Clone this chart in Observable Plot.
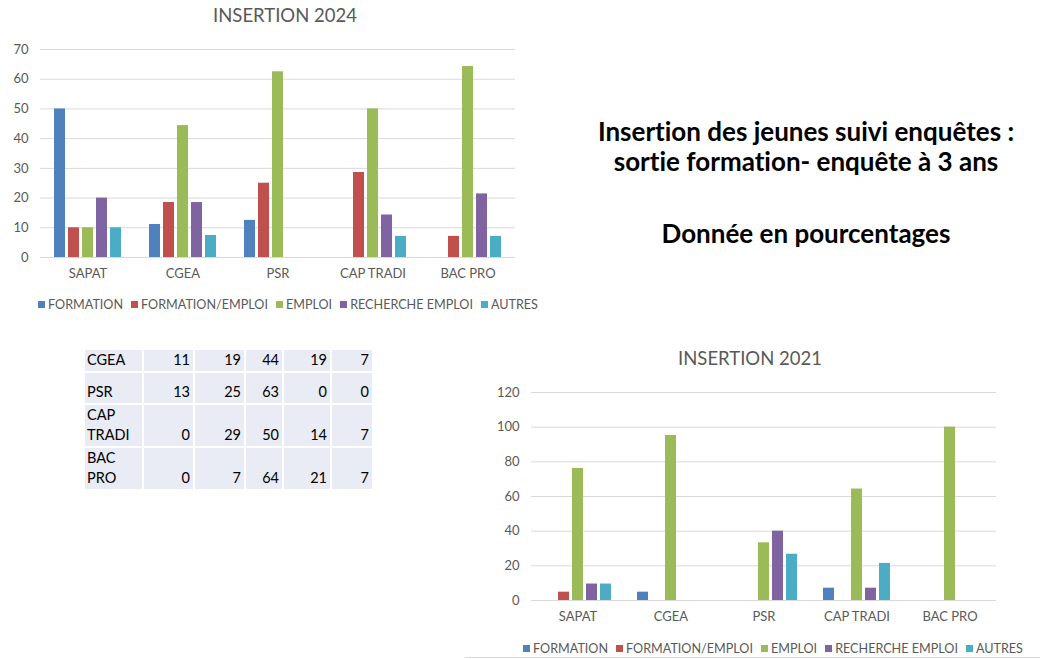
<!DOCTYPE html>
<html>
<head>
<meta charset="utf-8">
<script src="https://cdn.jsdelivr.net/npm/d3@7"></script>
<script src="https://cdn.jsdelivr.net/npm/@observablehq/plot@0.6"></script>
<style>
  html, body { margin: 0; padding: 0; background: #fff; }
  body { width: 1040px; height: 659px; position: relative; overflow: hidden; font-family: Lato, "Open Sans", sans-serif; font-variant-ligatures: none; }
  .abs { position: absolute; }
  .title { color: #595959; font-size: 18.5px; text-align: center; }
  .legend { display: flex; justify-content: center; gap: 8px; color: #595959; font-size: 12.6px; white-space: nowrap; }
  .legend span.sw { display: inline-block; width: 7px; height: 7px; margin-right: 3px; vertical-align: 1px; }
  .headline { color: #000; font-weight: bold; font-size: 26px; text-align: center; line-height: 31px; white-space: nowrap; }
  table.tbl { border-collapse: separate; border-spacing: 2px; font-size: 14.5px; color: #000; }
  table.tbl td { background: #e9ebf5; padding: 0 3px 1px 2px; vertical-align: bottom; line-height: 20px; }
  table.tbl td.num { text-align: right; }
  svg text { font-variant-ligatures: none; }
</style>
</head>
<body>
<div id="root"></div>
<script>
// ---- data ----
const categories = ["SAPAT", "CGEA", "PSR", "CAP TRADI", "BAC PRO"];
const series = ["FORMATION", "FORMATION/EMPLOI", "EMPLOI", "RECHERCHE EMPLOI", "AUTRES"];
const colors = ["#4F81BD", "#C0504D", "#9BBB59", "#8064A2", "#4BACC6"];

// 2024 (per category, in order of categories)
const formation2024        = [50, 11.1, 12.5, 0, 0];
const formationEmploi2024  = [10, 18.5, 25, 28.6, 7.1];
const emploi2024           = [10, 44.4, 62.5, 50, 64.3];
const rechercheEmploi2024  = [20, 18.5, 0, 14.3, 21.4];
const autres2024           = [10, 7.4, 0, 7.1, 7.1];

// 2021
const formation2021        = [0, 4.8, 0, 7.1, 0];
const formationEmploi2021  = [4.8, 0, 0, 0, 0];
const emploi2021           = [76.2, 95.2, 33.3, 64.3, 100];
const rechercheEmploi2021  = [9.5, 0, 40, 7.1, 0];
const autres2021           = [9.5, 0, 26.7, 21.4, 0];

const yTicks2024 = [0, 10, 20, 30, 40, 50, 60, 70];
const yTicks2021 = [0, 20, 40, 60, 80, 100, 120];

const tableRows = ["CGEA", "PSR", "CAP TRADI", "BAC PRO"];

const headline1 = "Insertion des jeunes suivi enquêtes :";
const headline2 = "sortie formation- enquête à 3 ans";
const headline3 = "Donnée en pourcentages";

// ---- build ----
function toRows(arrs) {
  const out = [];
  categories.forEach((c, i) => {
    series.forEach((s, j) => out.push({category: c, series: s, value: arrs[j][i]}));
  });
  return out;
}
const rows2024 = toRows([formation2024, formationEmploi2024, emploi2024, rechercheEmploi2024, autres2024]);
const rows2021 = toRows([formation2021, formationEmploi2021, emploi2021, rechercheEmploi2021, autres2021]);

const root = document.getElementById("root");
function place(el, left, top, width) {
  el.classList.add("abs");
  el.style.left = left + "px";
  el.style.top = top + "px";
  if (width != null) el.style.width = width + "px";
  root.appendChild(el);
  return el;
}
function div(cls, text) {
  const d = document.createElement("div");
  d.className = cls;
  if (text != null) d.textContent = text;
  return d;
}
function legend() {
  const d = div("legend");
  series.forEach((s, i) => {
    const item = document.createElement("div");
    const sw = document.createElement("span");
    sw.className = "sw";
    sw.style.background = colors[i];
    item.appendChild(sw);
    item.appendChild(document.createTextNode(s));
    d.appendChild(item);
  });
  return d;
}
function chart(rows, ymax, ticks, opts) {
  return Plot.plot({
    width: opts.width,
    height: opts.height,
    marginLeft: opts.ml, marginRight: opts.mr, marginTop: opts.mt, marginBottom: opts.mb,
    style: {fontFamily: "Lato, sans-serif", fontSize: "13px", color: "#595959", background: "transparent"},
    fx: {domain: categories, padding: 0, label: null, tickSize: 0, tickPadding: 11, axis: "bottom"},
    x: {domain: series, axis: null, paddingInner: 0.22, paddingOuter: 0.85},
    y: {domain: [0, ymax], ticks: ticks, label: null, tickSize: 0, tickPadding: 12},
    color: {domain: series, range: colors},
    marks: [
      Plot.ruleY(ticks, {stroke: "#d9d9d9", strokeWidth: 1}),
      Plot.barY(rows, {fx: "category", x: "series", y: "value", fill: "series"})
    ]
  });
}

// Chart 2024
place(div("title", "INSERTION 2024"), 0, 4, 570);
const svg1 = chart(rows2024, 70, yTicks2024, {width: 560, height: 257, ml: 39, mr: 45, mt: 19, mb: 30});
place(svg1, 0, 30);
place(legend(), 0, 297, 576);

// Headline
place(div("headline", headline1), 586, 116, 440);
place(div("headline", headline2), 586, 146, 440);
place(div("headline", headline3), 586, 218, 440);

// Table (values rounded from the 2024 series)
const tbl = document.createElement("table");
tbl.className = "tbl";
const allSeries2024 = [formation2024, formationEmploi2024, emploi2024, rechercheEmploi2024, autres2024];
const colW = [52, 44, 44, 31, 41, 35];
const rowH = [20, 29, 37, 39];
tableRows.forEach((name, r) => {
  const tr = document.createElement("tr");
  const ci = categories.indexOf(name);
  const td0 = document.createElement("td");
  td0.textContent = name;
  td0.style.width = colW[0] + "px";
  td0.style.height = rowH[r] + "px";
  tr.appendChild(td0);
  allSeries2024.forEach((arr, j) => {
    const td = document.createElement("td");
    td.className = "num";
    td.style.width = colW[j + 1] + "px";
    td.textContent = Math.round(arr[ci]);
    tr.appendChild(td);
  });
  tbl.appendChild(tr);
});
place(tbl, 83, 348);

// Chart 2021
place(div("title", "INSERTION 2021"), 480, 347, 540);
const svg2 = chart(rows2021, 120, yTicks2021, {width: 560, height: 255, ml: 49, mr: 42, mt: 17, mb: 30});
place(svg2, 480, 375);
place(legend(), 513, 641, 520);

// bottom border
const line = div("");
line.style.height = "1px";
line.style.background = "#d9d9d9";
place(line, 465, 657, 575);
</script>
</body>
</html>
